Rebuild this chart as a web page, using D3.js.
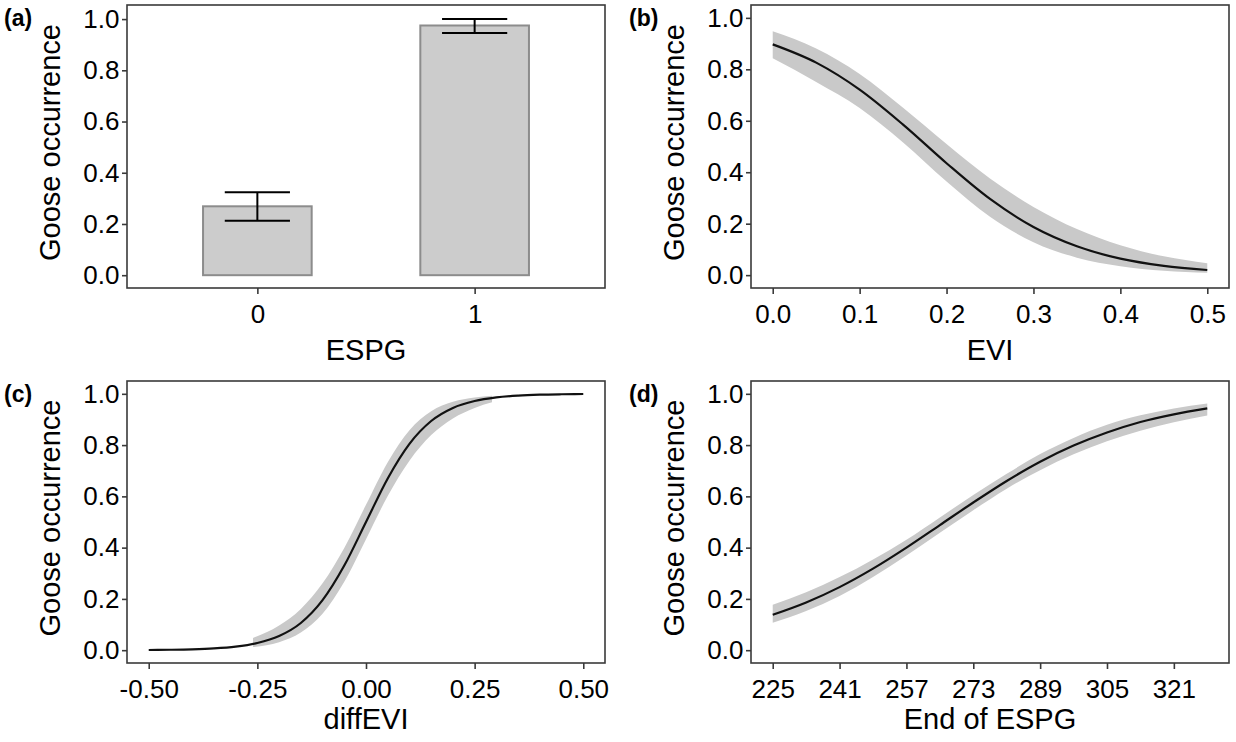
<!DOCTYPE html>
<html>
<head>
<meta charset="utf-8">
<script src="https://cdn.jsdelivr.net/npm/d3@7"></script>
<style>
  body { margin: 0; background: #fff; }
  svg { display: block; font-family: "Liberation Sans", Arial, sans-serif; }
</style>
</head>
<body>
<div class="chart"></div>
<script>
// ---- data ----
// (a) bars: ESPG category, mean occurrence and error bar limits
const espgCats = ["0", "1"];
const espgMean = [0.269, 0.975];
const espgLow = [0.213, 0.946];
const espgHigh = [0.324, 1.0];

// (b) EVI curve
const eviX = [0, 0.05, 0.1, 0.15, 0.2, 0.25, 0.3, 0.35, 0.4, 0.45, 0.5];
const eviFit = [0.897, 0.826, 0.721, 0.585, 0.435, 0.296, 0.187, 0.112, 0.064, 0.036, 0.020];
const eviLow = [0.843, 0.751, 0.650, 0.516, 0.364, 0.227, 0.128, 0.068, 0.035, 0.017, 0.009];
const eviHigh = [0.948, 0.881, 0.782, 0.651, 0.510, 0.376, 0.265, 0.179, 0.116, 0.073, 0.046];

// (c) diffEVI curve (ribbon only drawn where the figure shows it)
const diffX = [-0.5, -0.45, -0.4, -0.35, -0.3, -0.25, -0.2, -0.15, -0.1, -0.05, 0, 0.05, 0.1, 0.15, 0.2, 0.25, 0.3, 0.35, 0.4, 0.45, 0.5];
const diffFit = [0.0008, 0.0017, 0.0034, 0.0069, 0.0139, 0.0279, 0.0552, 0.106, 0.195, 0.330, 0.5, 0.670, 0.805, 0.894, 0.945, 0.972, 0.986, 0.993, 0.9966, 0.9983, 0.9992];
const diffBandX = [-0.26, -0.2, -0.15, -0.1, -0.05, 0, 0.05, 0.1, 0.15, 0.2, 0.25, 0.29];
const diffLow = [0.0122, 0.0311, 0.0685, 0.1418, 0.267, 0.433, 0.601, 0.739, 0.839, 0.904, 0.945, 0.967];
const diffHigh = [0.0478, 0.0962, 0.161, 0.261, 0.399, 0.567, 0.733, 0.858, 0.932, 0.969, 0.986, 0.9924];

// (d) End of ESPG curve
const endX = [225, 233, 241, 249, 257, 265, 273, 281, 289, 297, 305, 313, 321, 329];
const endFit = [0.138, 0.186, 0.246, 0.318, 0.400, 0.488, 0.576, 0.660, 0.735, 0.798, 0.849, 0.890, 0.920, 0.943];
const endLow = [0.107, 0.153, 0.211, 0.285, 0.369, 0.458, 0.546, 0.630, 0.702, 0.764, 0.815, 0.856, 0.889, 0.915];
const endHigh = [0.177, 0.226, 0.285, 0.354, 0.431, 0.518, 0.605, 0.688, 0.765, 0.828, 0.879, 0.916, 0.943, 0.962];

// tick labels
const yTicks = [0, 0.2, 0.4, 0.6, 0.8, 1.0];
const eviTicks = [0, 0.1, 0.2, 0.3, 0.4, 0.5];
const diffTicks = [-0.5, -0.25, 0, 0.25, 0.5];
const endTicks = [225, 241, 257, 273, 289, 305, 321];

// ---- layout ----
const W = 1236, H = 742;
const boxes = {
  a: {left: 127, right: 605, top: 5, bottom: 288, title: 72},
  b: {left: 751, right: 1229, top: 5, bottom: 288, title: 72},
  c: {left: 127, right: 605, top: 381, bottom: 663, title: 66},
  d: {left: 751, right: 1229, top: 381, bottom: 663, title: 66}
};
const tickFont = 26, titleFont = 29;
const ink = "#000", frame = "#3a3a3a", band = "#c9c9c9";

const svg = d3.select(".chart")
  .append("svg")
    .attr("width", W)
    .attr("height", H);

// y scale, ggplot default 5% expansion
function yScale(b) {
  return d3.scaleLinear().domain([-0.05, 1.05]).range([b.bottom, b.top]);
}
function xScale(b, lo, hi) {
  const pad = (hi - lo) * 0.05;
  return d3.scaleLinear().domain([lo - pad, hi + pad]).range([b.left, b.right]);
}
// plain hyphen for negatives, like the figure
const fmt = spec => d => d3.format(spec)(d).replace("\u2212", "-");

// draws border, axes, titles and panel tag
function drawFrame(b, x, y, xTicks, xFmt, xTitle, tag, tagX) {
  const ya = svg.append("g")
    .attr("transform", `translate(${b.left},0)`)
    .call(d3.axisLeft(y).tickValues(yTicks).tickFormat(fmt(".1f"))
      .tickSize(5).tickPadding(2.5).tickSizeOuter(0));
  const xa = svg.append("g")
    .attr("transform", `translate(0,${b.bottom})`)
    .call(d3.axisBottom(x).tickValues(xTicks).tickFormat(xFmt)
      .tickSize(6).tickPadding(11).tickSizeOuter(0));
  [ya, xa].forEach(g => {
    g.select(".domain").remove();
    g.selectAll("line").attr("stroke", frame).attr("stroke-width", 1.6);
    g.selectAll("text")
      .attr("fill", ink)
      .style("font-size", tickFont + "px")
      .style("font-family", "'Liberation Sans', Arial, sans-serif");
  });

  svg.append("rect")
    .attr("x", b.left)
    .attr("y", b.top)
    .attr("width", b.right - b.left)
    .attr("height", b.bottom - b.top)
    .attr("fill", "none")
    .attr("stroke", frame)
    .attr("stroke-width", 1.6);

  svg.append("text")
    .attr("transform", `translate(${b.left - 67},${(b.top + b.bottom) / 2 - 4}) rotate(-90)`)
    .attr("text-anchor", "middle")
    .style("font-size", titleFont + "px")
    .attr("fill", ink)
    .text("Goose occurrence");

  svg.append("text")
    .attr("x", (b.left + b.right) / 2)
    .attr("y", b.bottom + b.title)
    .attr("text-anchor", "middle")
    .style("font-size", titleFont + "px")
    .attr("fill", ink)
    .text(xTitle);

  svg.append("text")
    .attr("x", tagX)
    .attr("y", b.top + 21)
    .style("font-size", "23px")
    .style("font-weight", "bold")
    .attr("fill", ink)
    .text(tag);
}

// curve panel: ribbon + fitted line
function drawCurve(x, y, xs, fit, bx, lo, hi) {
  const bandData = bx.map((v, i) => [v, lo[i], hi[i]]);
  svg.append("path")
    .datum(bandData)
    .attr("fill", band)
    .attr("d", d3.area()
      .x(d => x(d[0]))
      .y0(d => y(d[1]))
      .y1(d => y(d[2]))
      .curve(d3.curveMonotoneX));
  svg.append("path")
    .datum(xs.map((v, i) => [v, fit[i]]))
    .attr("fill", "none")
    .attr("stroke", "#111")
    .attr("stroke-width", 2.2)
    .attr("d", d3.line()
      .x(d => x(d[0]))
      .y(d => y(d[1]))
      .curve(d3.curveMonotoneX));
}

// ---- (a) ----
{
  const b = boxes.a;
  const x = d3.scalePoint().domain(espgCats).range([b.left, b.right]).padding(0.6);
  const y = d3.scaleLinear().domain([-0.05, 1.055]).range([b.bottom, b.top]);
  const step = x.step();
  const bars = espgCats.map((c, i) => ({c, m: espgMean[i], lo: espgLow[i], hi: espgHigh[i]}));

  svg.selectAll("rect.bar")
    .data(bars)
    .enter()
    .append("rect")
      .attr("class", "bar")
      .attr("x", d => x(d.c) - step * 0.25)
      .attr("y", d => y(d.m))
      .attr("width", step * 0.5)
      .attr("height", d => y(0) - y(d.m))
      .attr("fill", "#cccccc")
      .attr("stroke", "#8c8c8c")
      .attr("stroke-width", 2);

  const eb = svg.append("g").attr("stroke", "#000").attr("stroke-width", 2);
  bars.forEach(d => {
    eb.append("line").attr("x1", x(d.c)).attr("x2", x(d.c)).attr("y1", y(d.lo)).attr("y2", y(d.hi));
    eb.append("line").attr("x1", x(d.c) - step * 0.15).attr("x2", x(d.c) + step * 0.15).attr("y1", y(d.lo)).attr("y2", y(d.lo));
    eb.append("line").attr("x1", x(d.c) - step * 0.15).attr("x2", x(d.c) + step * 0.15).attr("y1", y(d.hi)).attr("y2", y(d.hi));
  });

  drawFrame(b, x, y, espgCats, d => d, "ESPG", "(a)", 4);
}

// ---- (b) ----
{
  const b = boxes.b;
  const x = xScale(b, 0, 0.5);
  const y = yScale(b);
  drawCurve(x, y, eviX, eviFit, eviX, eviLow, eviHigh);
  drawFrame(b, x, y, eviTicks, fmt(".1f"), "EVI", "(b)", 629);
}

// ---- (c) ----
{
  const b = boxes.c;
  const x = xScale(b, -0.5, 0.5);
  const y = yScale(b);
  drawCurve(x, y, diffX, diffFit, diffBandX, diffLow, diffHigh);
  drawFrame(b, x, y, diffTicks, fmt(".2f"), "diffEVI", "(c)", 4);
}

// ---- (d) ----
{
  const b = boxes.d;
  const x = xScale(b, 225, 329);
  const y = yScale(b);
  drawCurve(x, y, endX, endFit, endX, endLow, endHigh);
  drawFrame(b, x, y, endTicks, d3.format("d"), "End of ESPG", "(d)", 629);
}
</script>
</body>
</html>
